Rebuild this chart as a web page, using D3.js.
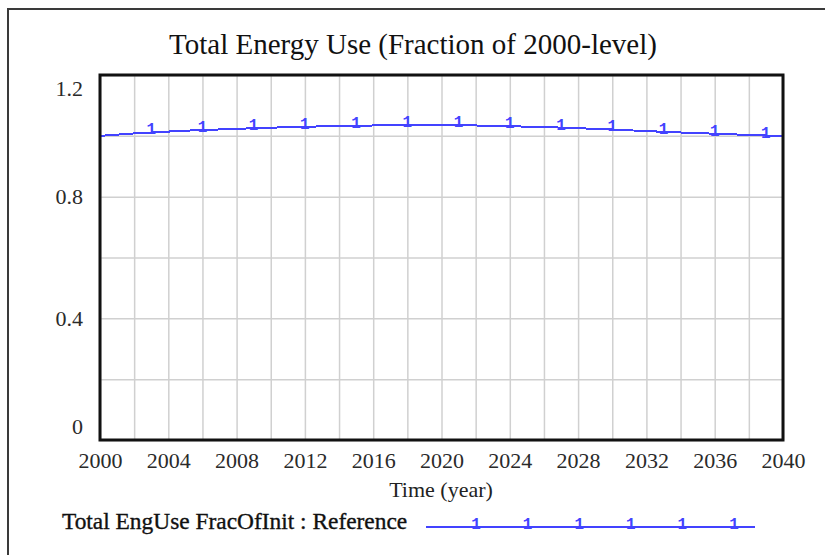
<!DOCTYPE html>
<html><head><meta charset="utf-8">
<script src="https://cdn.jsdelivr.net/npm/d3@7/dist/d3.min.js"></script>
<style>body{margin:0;background:#fff;} svg{display:block;}</style>
</head><body><svg id="c" width="825" height="555"></svg>
<script>
// ---- data ----
const chartTitle = "Total Energy Use (Fraction of 2000-level)";
const xAxisTitle = "Time (year)";
const seriesName = "Total EngUse FracOfInit : Reference";
const years = [2000,2001,2002,2003,2004,2005,2006,2007,2008,2009,2010,
               2011,2012,2013,2014,2015,2016,2017,2018,2019,2020,
               2021,2022,2023,2024,2025,2026,2027,2028,2029,2030,
               2031,2032,2033,2034,2035,2036,2037,2038,2039,2040];
const values = [1.000,1.004,1.008,1.011,1.014,1.017,1.019,1.021,1.023,1.025,1.027,
                1.028,1.030,1.031,1.032,1.033,1.034,1.034,1.035,1.035,1.035,
                1.034,1.034,1.033,1.032,1.030,1.029,1.027,1.025,1.023,1.021,
                1.018,1.016,1.013,1.011,1.009,1.007,1.005,1.003,1.001,0.999];
const xTickLabels = [2000,2004,2008,2012,2016,2020,2024,2028,2032,2036,2040];
const xGridYears = [2000,2002,2004,2006,2008,2010,2012,2014,2016,2018,2020,
                    2022,2024,2026,2028,2030,2032,2034,2036,2038,2040];
const yTickLabels = [0, 0.4, 0.8, 1.2];
const yGridValues = [0, 0.2, 0.4, 0.6, 0.8, 1.0, 1.2];
const markerYears = [2003,2006,2009,2012,2015,2018,2021,2024,2027,2030,2033,2036,2039];
const legendMarkerCount = 6;

// ---- layout ----
const W = 825, H = 555;
const L = 100, R = 783, T = 75, B = 440;
const serif = "'Liberation Serif','Times New Roman',serif";
const mono = "'Liberation Mono','Courier New',monospace";
const lineColor = "#4343ff";

const svg = d3.select("#c");
const x = d3.scaleLinear().domain([2000, 2040]).range([L, R]);
const y = d3.scaleLinear().domain([0, 1.2]).range([B, T]);

// outer frame
svg.append("path").attr("d", `M8,${H} V9 H${W}`)
  .attr("fill", "none").attr("stroke", "#3a3a3a").attr("stroke-width", 2);

// title
svg.append("text").attr("x", 413).attr("y", 54)
  .attr("text-anchor", "middle").attr("font-family", serif).attr("font-size", 29)
  .attr("fill", "#111").text(chartTitle);

// grid
const grid = svg.append("g");
grid.append("g").attr("transform", `translate(0,${B})`)
  .call(d3.axisBottom(x).tickValues(xGridYears).tickSize(-(B - T)).tickFormat(""))
  .call(g => g.select(".domain").remove())
  .call(g => g.selectAll("line").attr("stroke", "#d0d0d0").attr("stroke-width", 1.5));
grid.append("g").attr("transform", `translate(${L},0)`)
  .call(d3.axisLeft(y).tickValues(yGridValues).tickSize(-(R - L)).tickFormat(""))
  .call(g => g.select(".domain").remove())
  .call(g => g.selectAll("line").attr("stroke", "#d0d0d0").attr("stroke-width", 1.5));

// data line
const data = years.map((yr, i) => ({year: yr, value: values[i]}));
svg.append("path").datum(data)
  .attr("fill", "none").attr("stroke", lineColor).attr("stroke-width", 2)
  .attr("shape-rendering", "crispEdges")
  .attr("d", d3.line().x(d => x(d.year)).y(d => y(d.value)));

// markers on line
svg.append("g").selectAll("text").data(markerYears).join("text")
  .attr("x", d => x(d))
  .attr("y", d => y(values[years.indexOf(d)]) + 2)
  .attr("text-anchor", "middle")
  .attr("font-family", mono)
  .attr("font-weight", "bold").attr("font-size", 16)
  .attr("fill", lineColor).text("1");

// plot border
svg.append("rect").attr("x", L).attr("y", T).attr("width", R - L).attr("height", B - T)
  .attr("fill", "none").attr("stroke", "#111").attr("stroke-width", 3);

// x tick labels
svg.append("g").attr("transform", `translate(0,${B})`)
  .call(d3.axisBottom(x).tickValues(xTickLabels).tickSize(0).tickPadding(12).tickFormat(d3.format("d")))
  .call(g => g.select(".domain").remove())
  .call(g => g.selectAll("text").attr("font-family", serif).attr("font-size", 22)
      .attr("fill", "#2a2a2a"));

// y tick labels
svg.append("g").attr("transform", `translate(83,0)`)
  .call(d3.axisLeft(y).tickValues(yTickLabels).tickSize(0).tickPadding(0)
      .tickFormat(d => d === 0 ? "0" : d3.format(".1f")(d)))
  .call(g => g.select(".domain").remove())
  .call(g => g.selectAll("text").attr("font-family", serif).attr("font-size", 22)
      .attr("fill", "#2a2a2a")
      .attr("dy", d => d === 1.2 ? "0.95em" : d === 0 ? "-0.3em" : "0.32em"));

// x axis title
svg.append("text").attr("x", 441).attr("y", 497)
  .attr("text-anchor", "middle").attr("font-family", serif).attr("font-size", 22)
  .attr("fill", "#222").text(xAxisTitle);

// legend
svg.append("text").attr("x", 62).attr("y", 529)
  .attr("font-family", serif).attr("font-size", 23.4)
  .attr("fill", "#111").attr("stroke", "#111").attr("stroke-width", 0.35)
  .text(seriesName);
const lgX0 = 426, lgX1 = 755, lgY = 527;
svg.append("line").attr("x1", lgX0).attr("x2", lgX1).attr("y1", lgY).attr("y2", lgY)
  .attr("stroke", lineColor).attr("stroke-width", 2).attr("shape-rendering", "crispEdges");
svg.append("g").selectAll("text").data(d3.range(legendMarkerCount)).join("text")
  .attr("x", i => 476 + i * 51.6).attr("y", lgY + 2)
  .attr("text-anchor", "middle")
  .attr("font-family", mono)
  .attr("font-weight", "bold").attr("font-size", 16)
  .attr("fill", lineColor).text("1");
</script></body></html>
